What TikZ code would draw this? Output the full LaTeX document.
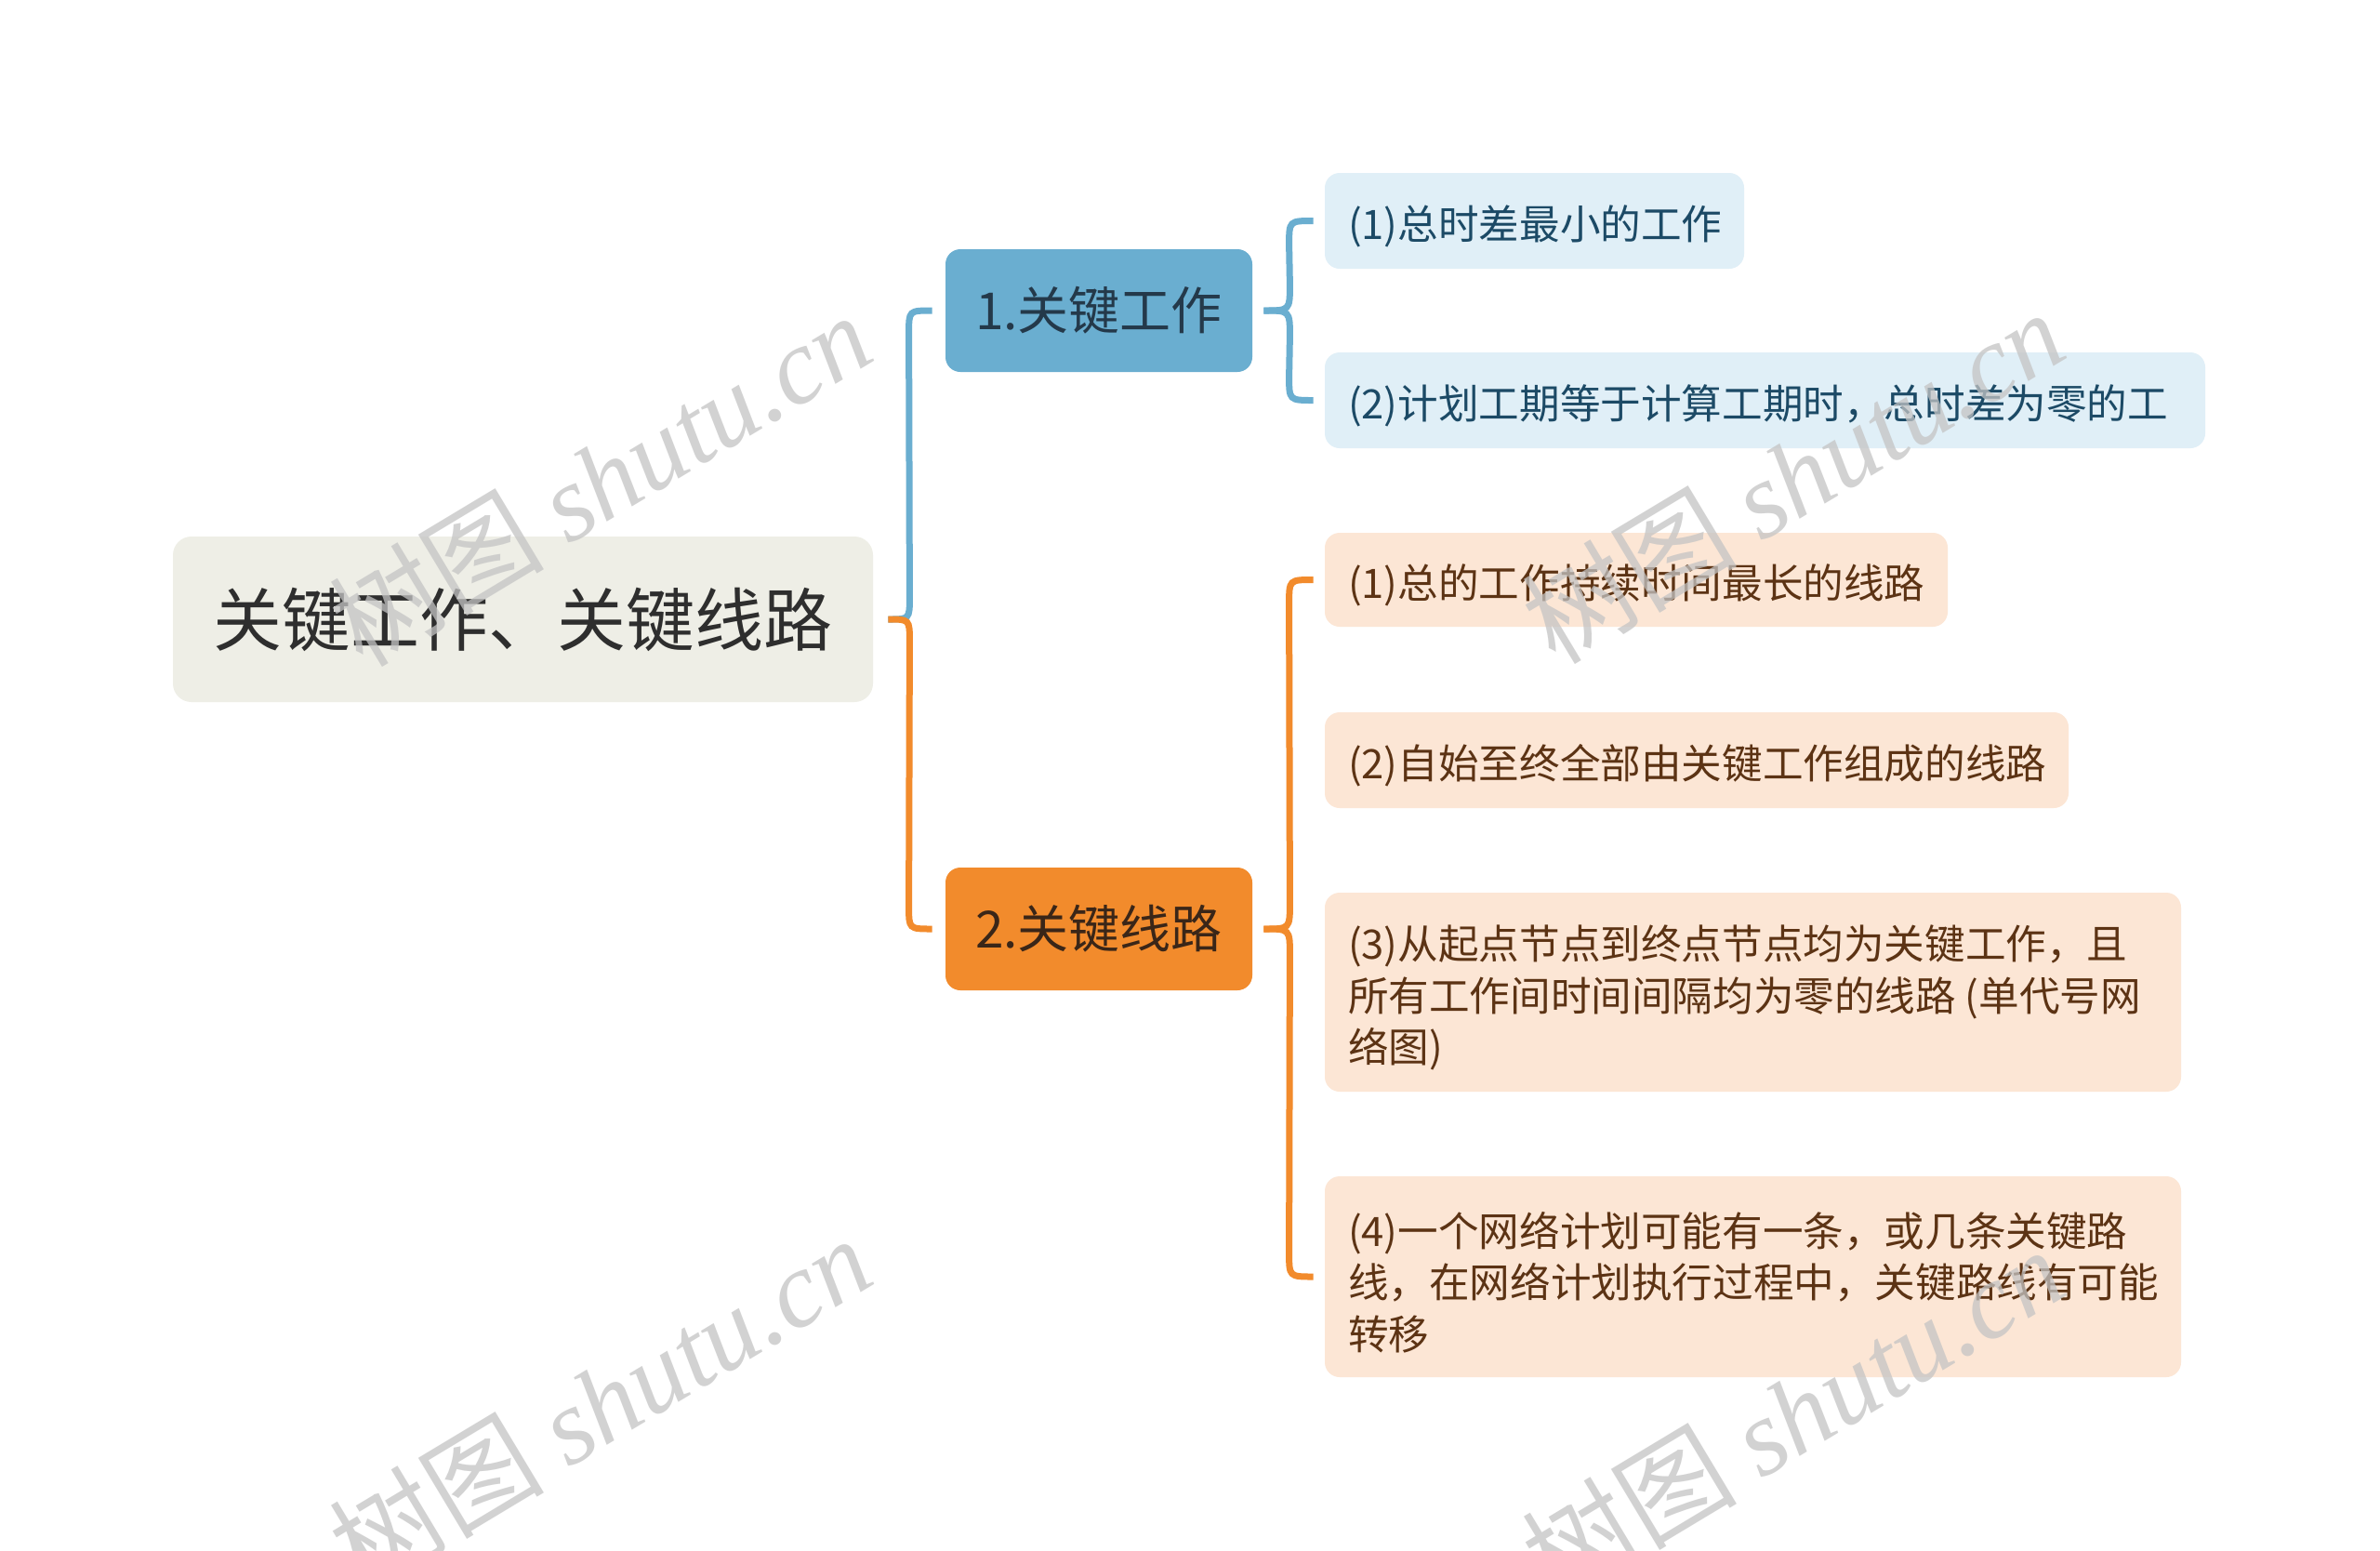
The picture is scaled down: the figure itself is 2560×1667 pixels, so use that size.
\documentclass[tikz,border=0pt]{standalone}
\usepackage{fontspec}
\setmainfont{Noto Sans CJK SC}
\newfontfamily\wmlatin{Liberation Serif}
\usetikzlibrary{calc}
\definecolor{rootfill}{HTML}{EEEEE6}
\definecolor{roottext}{HTML}{2E2E2E}
\definecolor{blueline}{HTML}{6AAED0}
\definecolor{bluefill}{HTML}{6AAED0}
\definecolor{bluetext}{HTML}{24394A}
\definecolor{blueleaf}{HTML}{E0EFF7}
\definecolor{blueleaftext}{HTML}{1C4A66}
\definecolor{orangeline}{HTML}{F28B2C}
\definecolor{orangefill}{HTML}{F28B2C}
\definecolor{orangetext}{HTML}{3A2618}
\definecolor{orangeleaf}{HTML}{FCE6D5}
\definecolor{orangeleaftext}{HTML}{5C3314}
\definecolor{wmgray}{HTML}{C4C4C4}
\tikzset{
  rootbox/.style={fill=rootfill, rounded corners=10pt, minimum width=376.5pt,
    minimum height=89pt, inner sep=0pt, text=roottext,
    font=\fontsize{37}{44}\selectfont},
  branchbox/.style={rounded corners=8pt, minimum width=165pt, minimum height=66pt,
    inner sep=0pt, font=\fontsize{27.5}{33}\selectfont},
  leafbox/.style={rounded corners=8pt, inner sep=0pt},
  leaftext/.style={anchor=west, inner sep=0pt, align=left,
    font=\fontsize{21.8}{27.75}\selectfont},
  bleaf/.style={leafbox, fill=blueleaf},
  oleaf/.style={leafbox, fill=orangeleaf},
  btext/.style={leaftext, text=blueleaftext},
  otext/.style={leaftext, text=orangeleaftext},
  bconn/.style={draw=blueline, line width=3.5pt},
  oconn/.style={draw=orangeline, line width=3.5pt},
  wmark/.style={text=wmgray, opacity=0.75, rotate=31, inner sep=0pt,
    font=\fontsize{58}{60}\selectfont}
}
\begin{document}
\begin{tikzpicture}[x=0.5pt,y=-0.5pt]
\useasboundingbox (0,0) rectangle (2560,1667);
\fill[white] (0,0) rectangle (2560,1667);

% main nodes
\node[rootbox] (root) at (562.5,666) {关键工作、关键线路};
\node[branchbox, fill=bluefill, text=bluetext] (b1) at (1182,334) {1.关键工作};
\node[branchbox, fill=orangefill, text=orangetext] (b2) at (1182,999) {2.关键线路};

% leaf boxes
\node[bleaf, minimum width=225.5pt, minimum height=51.5pt] (l1a) at (1650.5,237.5) {};
\node[bleaf, minimum width=473.5pt, minimum height=51.5pt] (l1b) at (1898.5,430.5) {};
\node[oleaf, minimum width=335pt, minimum height=50.5pt] (l2a) at (1760,623.5) {};
\node[oleaf, minimum width=400pt, minimum height=51.5pt] (l2b) at (1825,817.5) {};
\node[oleaf, minimum width=460.5pt, minimum height=107pt] (l2c) at (1885.5,1067) {};
\node[oleaf, minimum width=460.5pt, minimum height=108pt] (l2d) at (1885.5,1373) {};

% leaf texts
\node[btext] (l1a-t) at ($(l1a.west)+(25,6)$) {(1)总时差最小的工作};
\node[btext] (l1b-t) at ($(l1b.west)+(25,6)$) {(2)计划工期等于计算工期时，总时差为零的工};
\node[otext] (l2a-t) at ($(l2a.west)+(25,6)$) {(1)总的工作持续时间最长的线路};
\node[otext] (l2b-t) at ($(l2b.west)+(25,6)$) {(2)自始至终全部由关键工作组成的线路};
\node[otext] (l2c-t) at ($(l2c.west)+(25,6)$) {(3)从起点节点到终点节点均为关键工作，且\\所有工作间时间间隔均为零的线路 (单代号网\\络图)};
\node[otext] (l2d-t) at ($(l2d.west)+(25,6)$) {(4)一个网络计划可能有一条，或几条关键路\\线，在网络计划执行过程中，关键路线有可能\\转移};

% connector end points
\coordinate (t0) at ($(root.east)+(16,0)$);
\coordinate (e1) at ($(b1.west)+(-14,0)$);
\coordinate (e2) at ($(b2.west)+(-14,0)$);
\coordinate (t1) at ($(b1.east)+(12,0)$);
\coordinate (t2) at ($(b2.east)+(12,0)$);
\coordinate (f1a) at ($(l1a.west)+(-12,0)$);
\coordinate (f1b) at ($(l1b.west)+(-12,0)$);
\coordinate (f2a) at ($(l2a.west)+(-12,0)$);
\coordinate (f2d) at ($(l2d.west)+(-12,0)$);

% root to branches
\draw[bconn] (t0) .. controls ($(t0)+(23,0)$) .. ($(t0)+(23,-24)$)
  -- ($(e1)+(-25,24)$) .. controls ($(e1)+(-25,0)$) .. (e1);
\draw[oconn] (t0) .. controls ($(t0)+(23,0)$) .. ($(t0)+(23,24)$)
  -- ($(e2)+(-25,-24)$) .. controls ($(e2)+(-25,0)$) .. (e2);

% branch 1 bracket
\draw[bconn] (t1) .. controls ($(t1)+(28,0)$) .. ($(t1)+(28,-28)$)
  -- ($(f1a)+(-26,26)$) .. controls ($(f1a)+(-26,0)$) .. (f1a);
\draw[bconn] (t1) .. controls ($(t1)+(28,0)$) .. ($(t1)+(28,28)$)
  -- ($(f1b)+(-26,-26)$) .. controls ($(f1b)+(-26,0)$) .. (f1b);

% branch 2 bracket
\draw[oconn] (t2) .. controls ($(t2)+(28,0)$) .. ($(t2)+(28,-28)$)
  -- ($(f2a)+(-26,26)$) .. controls ($(f2a)+(-26,0)$) .. (f2a);
\draw[oconn] (t2) .. controls ($(t2)+(28,0)$) .. ($(t2)+(28,28)$)
  -- ($(f2d)+(-26,-26)$) .. controls ($(f2d)+(-26,0)$) .. (f2d);

% watermarks
\node[wmark] (wm1) at (645,515) {树图 {\wmlatin\itshape shutu.cn}};
\node[wmark] (wm2) at (1928,512) {树图 {\wmlatin\itshape shutu.cn}};
\node[wmark] (wm3) at (645,1508) {树图 {\wmlatin\itshape shutu.cn}};
\node[wmark] (wm4) at (1928,1520) {树图 {\wmlatin\itshape shutu.cn}};
\end{tikzpicture}
\end{document}
